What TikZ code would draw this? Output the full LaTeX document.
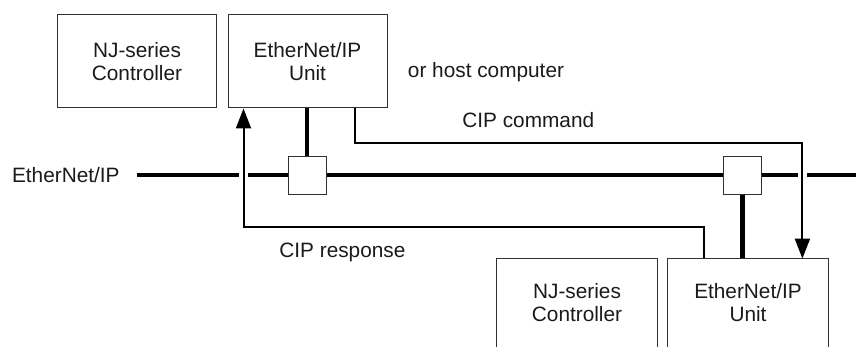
\documentclass[tikz,border=0pt]{standalone}
\usepackage{fontspec}
\setmainfont{Liberation Sans}
\usetikzlibrary{arrows.meta, positioning, calc, backgrounds}
\definecolor{tinta}{HTML}{1A1A1A}
\colorlet{colLinea}{black}
\colorlet{colCaja}{tinta!90}
\tikzset{
  unitBox/.style={
    draw=colCaja, line width=0.5pt, inner sep=0pt,
    minimum width=79.5pt, minimum height=46.5pt,
    align=center, text=tinta
  },
  openBox/.style={
    inner sep=0pt, minimum width=80pt, minimum height=44pt,
    align=center, text=tinta
  },
  hubBox/.style={draw=colCaja, line width=0.5pt, fill=white,
    minimum size=19pt, inner sep=0pt},
  busLine/.style={line width=2.4pt, colLinea},
  dropLine/.style={line width=2.4pt, colLinea},
  cipLine/.style={-{Triangle[length=10pt, width=7.5pt]}, line width=1pt,
    colLinea, preaction={draw=white, line width=4.5pt, -}},
  labelText/.style={inner sep=0pt, text=tinta},
}

\begin{document}
\begin{tikzpicture}[x=0.5pt, y=-0.5pt,
    every node/.style={font=\fontsize{10.4}{11.5}\selectfont}]
  \useasboundingbox (0,0) rectangle (856,347);

  % units on top
  \node[unitBox] (ctrlA) at (137,61.5) {NJ-series\\Controller};
  \node[unitBox] (unitA) at (307.5,61.5) {EtherNet/IP\\Unit};
  % units at the bottom, cut by the page
  \node[openBox] (ctrlB) at (577,303) {NJ-series\\Controller};
  \node[openBox] (unitB) at (748,303) {EtherNet/IP\\Unit};
  \draw[draw=colCaja, line width=0.5pt] (ctrlB.south west) |- (ctrlB.north east) -- (ctrlB.south east);
  \draw[draw=colCaja, line width=0.5pt] (unitB.south west) |- (unitB.north east) -- (unitB.south east);

  % taps on the network
  \node[hubBox] (hubA) at (307,175.5) {};
  \node[hubBox] (hubB) at (742.5,176) {};

  \coordinate (busStart) at (137,175);
  \coordinate (busEnd) at (856,175);
  \node[labelText, left=8.5pt of busStart] (busLabel) {EtherNet/IP};
  \node[labelText] (hostLabel) at (486,72) {or host computer};
  \node[labelText, anchor=west] (cmdLabel) at (462,120) {CIP command};
  \node[labelText, anchor=west] (respLabel) at (279,252) {CIP response};

  \begin{scope}[on background layer]
    \draw[busLine] (busStart) -- (busEnd);
    \draw[dropLine] (hubA.north) -- (hubA.north |- unitA.south);
    \draw[dropLine] (hubB.south) -- (hubB.south |- unitB.north);
    % command and response
    \draw[cipLine] ($(unitA.south east)+(-33,0)$) -- ++(0,35) -| ($(unitB.north east)+(-26,0)$);
    \draw[cipLine] ($(unitB.north west)+(36,0)$) -- ++(0,-32) -| ($(unitA.south west)+(16,0)$);
  \end{scope}
\end{tikzpicture}
\end{document}
